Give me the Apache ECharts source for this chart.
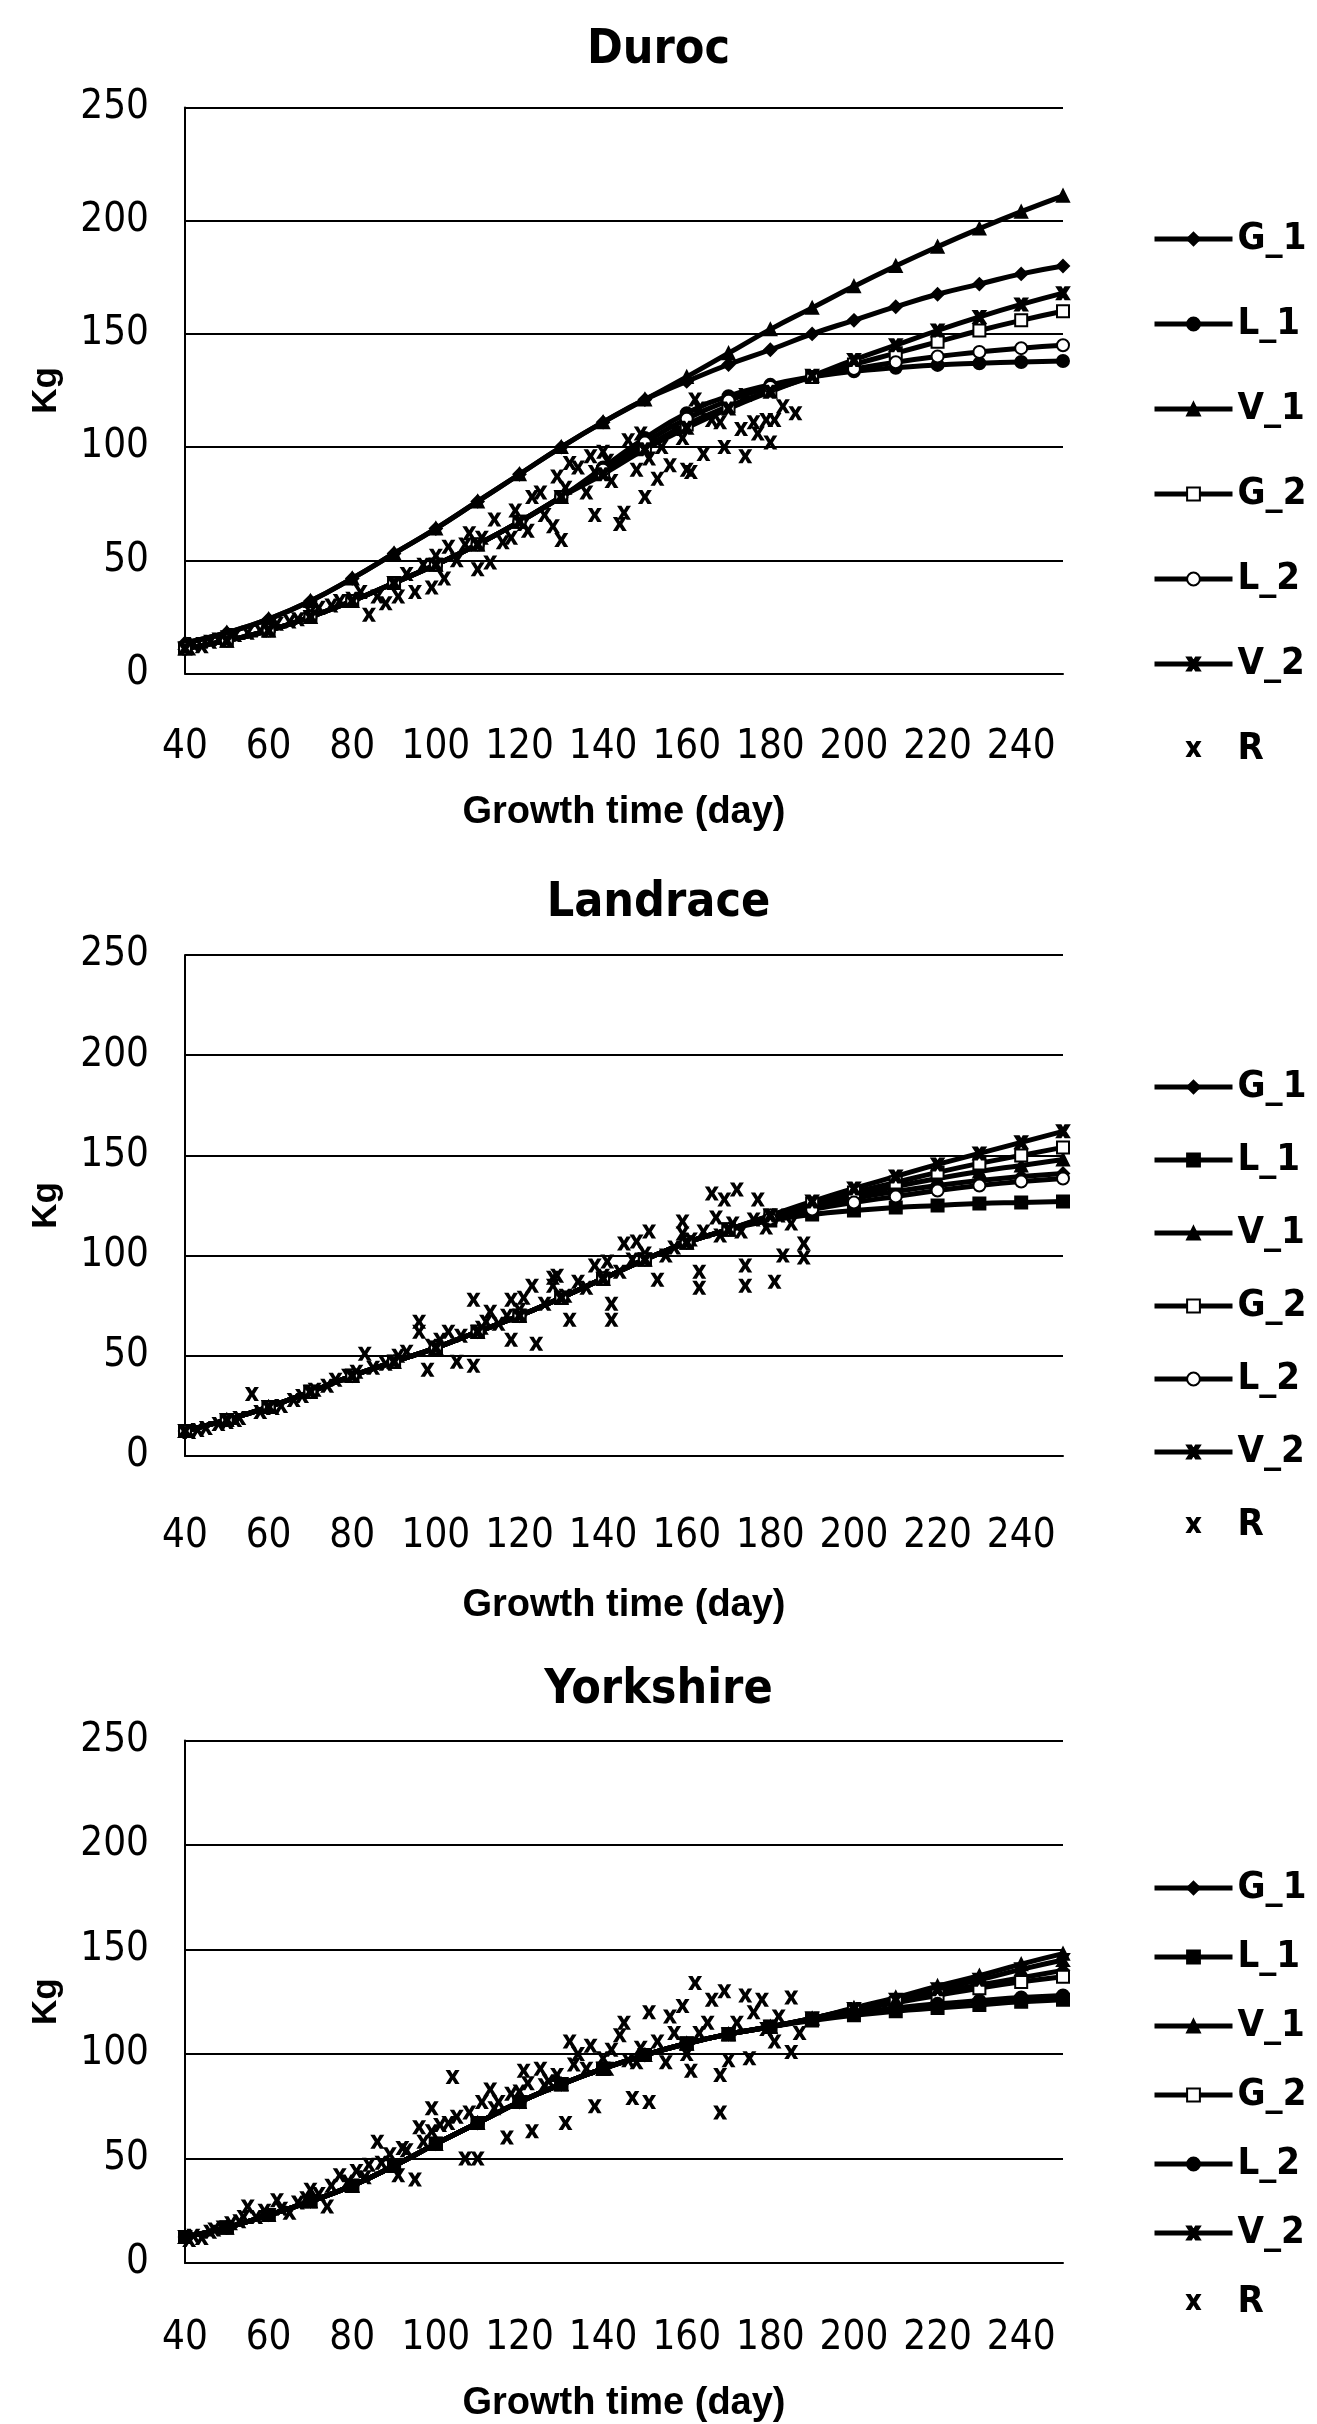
<!DOCTYPE html>
<html>
<head>
<meta charset="utf-8">
<script src="https://cdn.jsdelivr.net/npm/echarts@6/dist/echarts.min.js"></script>
<style>
html, body { margin: 0; padding: 0; background: #fff; }
#main { width: 1317px; height: 2424px; }
</style>
</head>
<body>
<div id="main"></div>
<script>
var days = [40, 50, 60, 70, 80, 90, 100, 110, 120, 130, 140, 150, 160, 170, 180, 190, 200, 210, 220, 230, 240, 250];
var xTicks = [40, 60, 80, 100, 120, 140, 160, 180, 200, 220, 240];
var yTicks = [0, 50, 100, 150, 200, 250];
var seriesNames = ['G_1', 'L_1', 'V_1', 'G_2', 'L_2', 'V_2', 'R'];

// Duroc
var durocG1 = [13.5, 18, 24, 32, 42, 53, 64, 76, 88, 100, 111, 121, 129, 136.5, 143, 150, 156, 162, 167.5, 172, 176.5, 180];
var durocL1 = [11, 14.5, 19, 25, 32, 40, 48, 57, 67, 78, 91, 104, 115, 122.5, 127.5, 131, 133.5, 135, 136.3, 137, 137.6, 138];
var durocV1 = [13.5, 18, 24, 32, 42, 53, 64, 76, 88, 100, 111, 121, 131, 141.5, 152, 161.5, 171, 180, 188.5, 196.5, 204, 211];
var durocG2 = [11, 14.5, 19, 25, 32, 40, 48, 57, 67, 78, 89, 100, 110, 118, 125, 131, 136.5, 141.5, 146.5, 151.5, 156, 160];
var durocL2 = [11, 14.5, 19, 25, 32, 40, 48, 57, 67, 78, 90, 102, 112.5, 120.5, 126.5, 131, 134.5, 137.5, 140, 142, 143.7, 145];
var durocV2 = [11, 14.5, 19, 25, 32, 40, 48, 57, 67, 78, 88, 99, 108.5, 117, 124.5, 131.5, 138.5, 145, 151.5, 157.5, 163, 168];
var durocR = [[41,11],[42,13],[44,12],[46,14],[48,15],[50,16],[52,17],[55,18],[58,19],[60,21],[62,22],[65,23],[67,24],[70,27],[72,29],[75,30],[77,32],[80,33],[82,36],[84,26],[86,34],[88,31],[90,40],[91,34],[93,44],[95,36],[97,48],[99,38],[100,52],[102,42],[103,56],[105,50],[107,57],[108,62],[110,46],[111,60],[113,49],[114,68],[116,58],[118,60],[119,72],[121,66],[122,63],[123,78],[125,80],[126,70],[128,65],[129,87],[130,59],[131,82],[132,93],[134,91],[136,80],[137,96],[138,70],[138,89],[140,98],[141,94],[142,85],[144,66],[145,71],[146,103],[148,90],[149,106],[150,78],[151,95],[153,86],[154,100],[156,92],[157,108],[159,104],[160,90],[161,89],[162,121],[163,117],[164,97],[166,112],[168,111],[169,100],[170,118],[171,121],[173,108],[174,96],[174,123],[176,111],[177,106],[179,112],[180,102],[181,112],[183,118],[186,115]];

// Landrace
var landG1 = [12.5, 18, 24.5, 32, 40, 47, 54, 62, 70, 79, 88.5, 98, 106.5, 113, 119, 124, 128.5, 132, 135, 137.5, 139.5, 141];
var landL1 = [12.5, 18, 24.5, 32, 40, 47, 54, 62, 70, 79, 88.5, 98, 106.5, 113, 117.5, 120.5, 122.5, 124, 125, 126, 126.5, 127];
var landV1 = [12.5, 18, 24.5, 32, 40, 47, 54, 62, 70, 79, 88.5, 98, 106.5, 113, 119.5, 125, 130, 134.5, 138.5, 142, 145, 148];
var landG2 = [12.5, 18, 24.5, 32, 40, 47, 54, 62, 70, 79, 88.5, 98, 106.5, 113, 120, 126, 131.5, 136.5, 141.5, 146, 150, 154];
var landL2 = [12.5, 18, 24.5, 32, 40, 47, 54, 62, 70, 79, 88.5, 98, 106.5, 113, 118.5, 123, 126.5, 129.5, 132.5, 135, 137, 138.5];
var landV2 = [12.5, 18, 24.5, 32, 40, 47, 54, 62, 70, 79, 88.5, 98, 106.5, 113, 120, 127, 133.5, 139.5, 145.5, 151, 156.5, 162];
var landR = [[41,12],[43,13],[45,14],[48,16],[50,17],[52,18],[53,19],[56,31],[58,22],[61,24],[63,25],[66,28],[68,30],[71,33],[74,35],[76,38],[79,40],[81,42],[83,51],[85,44],[88,46],[91,50],[93,52],[96,67],[96,62],[98,43],[99,55],[101,58],[103,62],[105,47],[106,60],[109,45],[109,78],[111,64],[112,67],[113,72],[115,66],[117,70],[118,78],[118,58],[120,73],[121,79],[123,85],[124,56],[126,76],[128,89],[128,85],[129,90],[131,80],[132,68],[134,87],[136,84],[138,95],[140,90],[141,97],[142,76],[142,68],[144,92],[145,106],[147,98],[148,107],[150,101],[151,112],[153,88],[155,100],[157,104],[159,117],[159,111],[161,108],[163,84],[163,92],[164,112],[166,131],[167,119],[168,110],[169,128],[171,116],[172,133],[173,112],[174,95],[174,85],[176,118],[177,128],[179,114],[181,87],[182,120],[183,100],[185,116],[188,106],[188,99]];

// Yorkshire
var yorkG1 = [12.4, 17, 23, 29.5, 37, 46.5, 57, 67, 77, 85.5, 93, 99.5, 105, 109.5, 113, 117, 121.5, 125.5, 129.5, 133, 136.5, 140];
var yorkL1 = [12.4, 17, 23, 29.5, 37, 46.5, 57, 67, 77, 85.5, 93, 99.5, 105, 109.5, 113, 116, 118.5, 120.5, 122, 123.5, 125, 126];
var yorkV1 = [12.4, 17, 23, 29.5, 37, 46.5, 57, 67, 77, 85.5, 93, 99.5, 105, 109.5, 113, 117, 122, 127, 132.5, 137.5, 143, 148];
var yorkG2 = [12.4, 17, 23, 29.5, 37, 46.5, 57, 67, 77, 85.5, 93, 99.5, 105, 109.5, 113, 117, 121, 124.5, 128, 131.5, 134.5, 137];
var yorkL2 = [12.4, 17, 23, 29.5, 37, 46.5, 57, 67, 77, 85.5, 93, 99.5, 105, 109.5, 113, 116.5, 119.5, 122, 124, 125.5, 127, 128];
var yorkV2 = [12.4, 17, 23, 29.5, 37, 46.5, 57, 67, 77, 85.5, 93, 99.5, 105, 109.5, 113, 117, 121.5, 126, 131, 135.5, 140.5, 145];
var yorkR = [[41,11],[42,13],[44,12],[46,15],[47,16],[49,17],[51,19],[53,20],[54,22],[55,27],[57,22],[59,25],[62,30],[63,26],[65,24],[67,29],[69,31],[70,35],[72,33],[74,27],[75,37],[77,42],[79,39],[81,44],[83,41],[84,47],[86,58],[87,48],[89,52],[91,42],[92,55],[93,54],[95,40],[96,65],[97,58],[99,74],[99,63],[101,66],[103,67],[104,89],[105,70],[107,50],[108,72],[110,50],[111,77],[113,83],[114,74],[115,77],[117,60],[118,81],[120,82],[121,92],[122,86],[123,63],[125,93],[126,85],[127,87],[129,90],[131,67],[132,106],[133,95],[134,100],[136,93],[137,104],[138,75],[140,98],[141,93],[142,102],[144,109],[145,115],[146,97],[147,79],[148,96],[149,103],[151,77],[151,120],[153,106],[155,96],[156,118],[157,110],[159,123],[160,100],[161,92],[162,134],[163,110],[165,115],[166,126],[168,72],[168,90],[169,130],[170,97],[172,115],[174,128],[175,98],[176,120],[178,126],[179,112],[181,106],[182,118],[185,101],[185,127],[187,110]];

var crossPath = 'path://M0,0L3.2,0L5,3L6.8,0L10,0L6.8,5L10,10L6.8,10L5,7L3.2,10L0,10L3.2,5Z';
var narrowFont = "'Liberation Sans Narrow', 'DejaVu Sans Condensed', sans-serif";
var boldFont = "'Liberation Sans', Arial, sans-serif";

var panels = [
    { tag: 'd', title: 'Duroc', top: 107.5, height: 566, titleTop: 22,
      labelMargin: 54, nameGap: 120, legendTop: 214, legendGap: 45,
      curves: [durocG1, durocL1, durocV1, durocG2, durocL2, durocV2], r: durocR,
      symbols: ['diamond', 'circle', 'triangle', 'emptyRect', 'emptyCircle', crossPath] },
    { tag: 'l', title: 'Landrace', top: 955, height: 501, titleTop: 875,
      labelMargin: 61, nameGap: 131, legendTop: 1062, legendGap: 33,
      curves: [landG1, landL1, landV1, landG2, landL2, landV2], r: landR,
      symbols: ['diamond', 'rect', 'triangle', 'emptyRect', 'emptyCircle', crossPath] },
    { tag: 'y', title: 'Yorkshire', top: 1740.5, height: 522.5, titleTop: 1662,
      labelMargin: 56, nameGap: 122, legendTop: 1863, legendGap: 29,
      curves: [yorkG1, yorkL1, yorkV1, yorkG2, yorkL2, yorkV2], r: yorkR,
      symbols: ['diamond', 'rect', 'triangle', 'emptyRect', 'circle', crossPath] }
];

var titles = [], grids = [], xAxes = [], yAxes = [], legends = [], series = [];

panels.forEach(function (p, k) {
    titles.push({
        text: p.title, left: 'center', top: p.titleTop,
        textStyle: { fontFamily: narrowFont, fontWeight: 'bold', fontSize: 48, color: '#000' }
    });
    grids.push({ left: 185, top: p.top, width: 878, height: p.height });
    xAxes.push({
        type: 'value', gridIndex: k, min: 40, max: 250, interval: 20,
        name: 'Growth time (day)', nameLocation: 'middle', nameGap: p.nameGap,
        nameTextStyle: { fontFamily: boldFont, fontWeight: 'bold', fontSize: 38, color: '#000' },
        axisLine: { show: true, onZero: false, lineStyle: { color: '#000', width: 2 } },
        axisTick: { show: false },
        splitLine: { show: false },
        axisLabel: { margin: p.labelMargin, showMaxLabel: false, fontFamily: narrowFont, fontSize: 40, color: '#000' }
    });
    yAxes.push({
        type: 'value', gridIndex: k, min: 0, max: 250, interval: 50,
        name: 'Kg', nameLocation: 'middle', nameGap: 121,
        nameTextStyle: { fontFamily: boldFont, fontWeight: 'bold', fontSize: 35, color: '#000' },
        axisLine: { show: true, onZero: false, lineStyle: { color: '#000', width: 2 } },
        axisTick: { show: false },
        splitLine: { show: true, lineStyle: { color: '#000', width: 2 } },
        axisLabel: { margin: 36, fontFamily: narrowFont, fontSize: 40, color: '#000' }
    });
    legends.push({
        orient: 'vertical', left: 1147, top: p.legendTop,
        itemWidth: 78, itemHeight: 16, itemGap: p.legendGap,
        data: seriesNames.map(function (n) { return n + '|' + p.tag; }),
        formatter: function (n) { return n.split('|')[0]; },
        lineStyle: { width: 5 },
        textStyle: { fontFamily: narrowFont, fontWeight: 'bold', fontSize: 38, lineHeight: 40, color: '#000' },
        selectedMode: false
    });
    p.curves.forEach(function (vals, i) {
        series.push({
            name: seriesNames[i] + '|' + p.tag,
            type: 'line', xAxisIndex: k, yAxisIndex: k,
            data: days.map(function (d, j) { return [d, vals[j]]; }),
            smooth: true,
            symbol: p.symbols[i], symbolSize: 12, showAllSymbol: true,
            lineStyle: { color: '#000', width: 5 },
            itemStyle: { color: '#000', borderColor: '#000', borderWidth: 2 }
        });
    });
    series.push({
        name: 'R|' + p.tag,
        type: 'scatter', xAxisIndex: k, yAxisIndex: k,
        data: p.r,
        symbol: crossPath, symbolSize: 14,
        itemStyle: { color: '#000', opacity: 1 }
    });
});

var chart = echarts.init(document.getElementById('main'));
chart.setOption({
    animation: false,
    backgroundColor: '#fff',
    title: titles,
    grid: grids,
    xAxis: xAxes,
    yAxis: yAxes,
    legend: legends,
    series: series
});
</script>
</body>
</html>
